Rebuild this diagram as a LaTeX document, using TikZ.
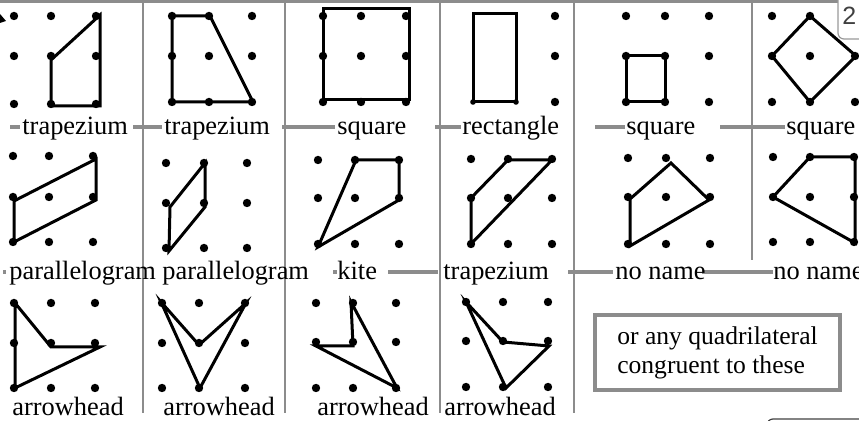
\documentclass[tikz,border=0pt]{standalone}
\usepackage{fontspec}
\setmainfont{Liberation Serif}
\newfontfamily\pagefont{Liberation Sans}
\usetikzlibrary{positioning}
\definecolor{rulegray}{gray}{0.55}
\tikzstyle{quad}=[line width=1.5pt, line join=miter]
\tikzstyle{rule}=[draw=rulegray, line width=2pt]
\tikzstyle{vrule}=[draw=rulegray, line width=1pt]
\tikzstyle{quadname}=[anchor=base west, inner sep=0pt, font=\fontsize{13.2}{15}\selectfont]
\newcommand{\dotgrid}[6]{%
  \foreach \gx in {#1,#2,#3}
    \foreach \gy in {#4,#5,#6}
      \fill (\gx,\gy) circle[radius=2.1pt];}

\begin{document}
\begin{tikzpicture}[x=0.5pt, y=-0.5pt]
    \useasboundingbox (0,0) rectangle (859,421);

    % frame of the table
    \draw[rulegray, line width=1.6pt] (0,1.5) -- (838,1.5);
    \foreach \vx in {143,285,440,574}
        \draw[vrule] (\vx,0) -- (\vx,413);
    \draw[vrule] (752,0) -- (752,260);
    \foreach \ra/\rb in {10/20, 133/162, 282/335, 435/461, 595/625, 720/785}
        \draw[rule] (\ra,127) -- (\rb,127);
    \foreach \ra/\rb in {3/6, 333/337, 388/438, 568/613, 702/773}
        \draw[rule] (\ra,272) -- (\rb,272);

    % row 1
    \dotgrid{14}{51}{96}{16}{56}{104}
    \draw[quad] (100,15) -- (51,60) -- (51,106) -- (100,106) -- cycle;
    \dotgrid{172}{209}{252}{16}{56}{102}
    \draw[quad] (172,16) -- (210,16) -- (253,102) -- (172,102) -- cycle;
    \dotgrid{323}{361}{406}{16}{56}{102}
    \draw[quad] (323,9) rectangle (409,100);
    \foreach \gy in {16,56,102}
        \fill (555,\gy) circle[radius=2.1pt];
    \fill (473,102) circle[radius=1.4pt] (516,102) circle[radius=1.4pt];
    \draw[quad] (473,14) rectangle (516,102);
    \dotgrid{626}{665}{709}{16}{56}{102}
    \draw[quad] (626,56) rectangle (665,102);
    \dotgrid{772}{810}{855}{16}{56}{102}
    \draw[quad] (810,16) -- (856,56) -- (810,102) -- (772,56) -- cycle;

    % row 2
    \dotgrid{13}{49}{93}{156}{197}{242}
    \draw[quad] (14,242) -- (14,201) -- (96,159) -- (96,200) -- cycle;
    \dotgrid{166}{204}{247}{163}{203}{248}
    \draw[quad] (169,251) -- (170,207) -- (205,163) -- (205,207) -- cycle;
    \dotgrid{318}{355}{399}{160}{198}{244}
    \draw[quad] (318,247) -- (356,160) -- (399,160) -- (399,200) -- cycle;
    \dotgrid{471}{508}{552}{159}{198}{244}
    \draw[quad] (471,244) -- (471,198) -- (508,160) -- (552,160) -- cycle;
    \dotgrid{628}{666}{710}{158}{197}{244}
    \draw[quad] (630,246) -- (630,199) -- (671,163) -- (709,200) -- cycle;
    \dotgrid{773}{810}{854}{157}{197}{242}
    \draw[quad] (773,197) -- (810,157) -- (855,157) -- (855,243) -- cycle;

    % row 3
    \dotgrid{14}{51}{95}{303}{343}{388}
    \draw[quad] (15,303) -- (51,347) -- (100,347) -- (15,388) -- cycle;
    \dotgrid{162}{199}{245}{303}{343}{388}
    \draw[quad] (161,302) -- (199,345) -- (246,303) -- (200,388) -- cycle;
    \dotgrid{316}{353}{396}{303}{342}{388}
    \draw[quad] (316,346) -- (353,346) -- (351,302) -- (397,388) -- cycle;
    \dotgrid{466}{503}{548}{302}{341}{387}
    \draw[quad] (466,302) -- (503,342) -- (549,346) -- (506,388) -- cycle;

    % names
    \node[quadname] (nA) at (22,135) {trapezium};
    \node[quadname] (nB) at (164,135) {trapezium};
    \node[quadname] (nC) at (337,135) {square};
    \node[quadname] (nD) at (462,135) {rectangle};
    \node[quadname] (nE) at (626,135) {square};
    \node[quadname] (nF) at (786,135) {square};
    \node[quadname] (nG) at (9,280) {parallelogram};
    \node[quadname] (nH) at (162,280) {parallelogram};
    \node[quadname] (nI) at (337,280) {kite};
    \node[quadname] (nJ) at (443,280) {trapezium};
    \node[quadname] (nK) at (615,280) {no name};
    \node[quadname] (nL) at (773,280) {no name};
    \node[quadname] (nM) at (12,416) {arrowhead};
    \node[quadname] (nN) at (163,416) {arrowhead};
    \node[quadname] (nO) at (317,416) {arrowhead};
    \node[quadname] (nP) at (444,416) {arrowhead};

    \node[draw=rulegray, line width=2pt, minimum width=122.5pt, minimum height=37.5pt,
        align=left, inner sep=0pt, font=\fontsize{12.8}{14.5}\selectfont] (note)
        at (717.5,352.5) {or any quadrilateral\\congruent to these};

    % bits of the page round the table
    \draw[fill=white, draw=black!40, line width=0.6pt, rounded corners=3pt]
        (838,-10) rectangle (890,39);
    \node[anchor=base west, inner sep=0pt, text=black!75,
        font=\pagefont\fontsize{12.5}{14}\selectfont] (pagenum) at (842,25) {2};
    \draw[black!75, line width=0.6pt, rounded corners=3pt]
        (767,430) -- (767,419) -- (890,419);
    \fill (0,14) -- (6,21) -- (0,23) -- cycle;

\end{tikzpicture}
\end{document}
